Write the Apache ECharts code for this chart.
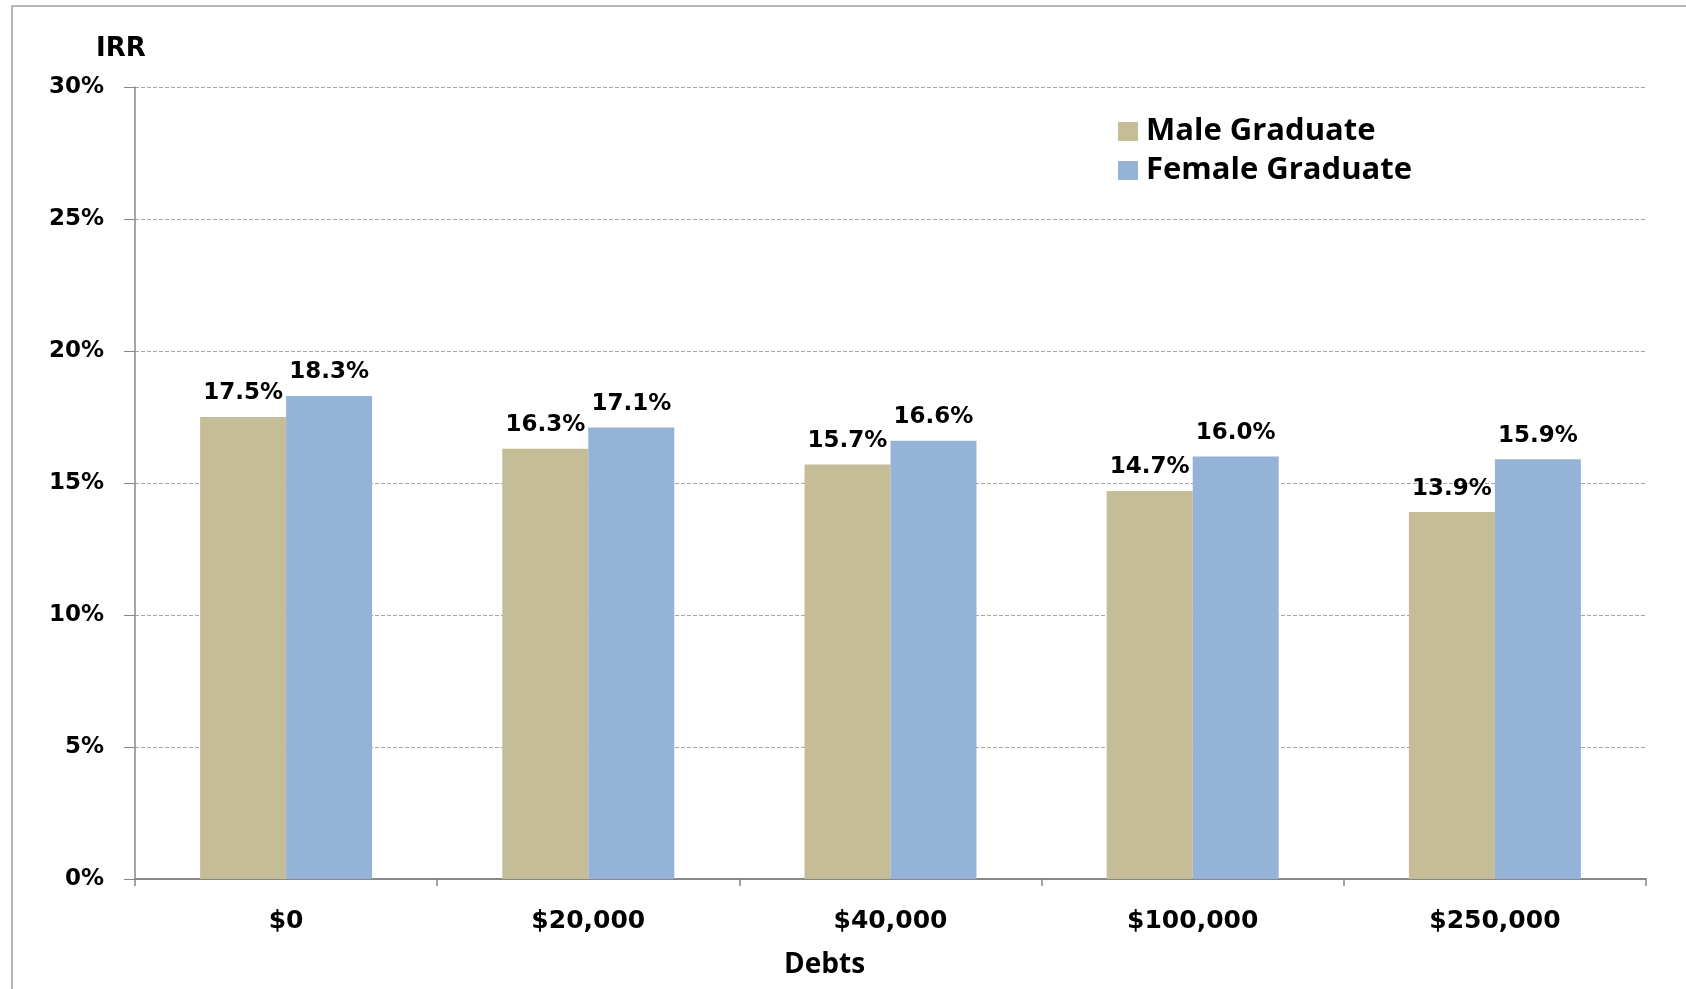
<!DOCTYPE html>
<html>
<head>
<meta charset="utf-8">
<script src="https://cdn.jsdelivr.net/npm/echarts@6/dist/echarts.min.js"></script>
<style>
  html, body { margin: 0; padding: 0; background: #fff; }
  #main { width: 1686px; height: 989px; }
</style>
</head>
<body>
<div id="main"></div>
<script>
const categories = ['$0', '$20,000', '$40,000', '$100,000', '$250,000'];
const maleValues = [17.5, 16.3, 15.7, 14.7, 13.9];
const femaleValues = [18.3, 17.1, 16.6, 16.0, 15.9];
const seriesNames = ['Male Graduate', 'Female Graduate'];

const chart = echarts.init(document.getElementById('main'));

const valueLabel = {
  show: true,
  position: 'top',
  distance: 12,
  fontFamily: 'DejaVu Sans',
  fontWeight: 'bold',
  fontSize: 23,
  color: '#000',
  formatter: p => p.value.toFixed(1) + '%'
};

const option = {
  backgroundColor: '#fff',
  animation: false,
  grid: {
    left: 135,
    right: 40,
    top: 87,
    bottom: 110
  },
  legend: {
    left: 1118,
    top: 116,
    padding: 0,
    orient: 'vertical',
    itemWidth: 20,
    itemHeight: 19,
    itemGap: 8,
    icon: 'rect',
    textStyle: {
      fontFamily: 'Open Sans',
      fontWeight: 'bold',
      fontSize: 31,
      lineHeight: 31,
      color: '#000',
      padding: [0, 0, 0, 3]
    },
    data: seriesNames
  },
  graphic: [
    {
      type: 'rect',
      shape: {x: 12, y: 6, width: 2000, height: 2000},
      style: {fill: 'none', stroke: '#a0a0a0', lineWidth: 1.5},
      silent: true
    },
    {
      type: 'text',
      left: 96,
      top: 36,
      style: {
        text: 'IRR',
        fontFamily: 'DejaVu Sans',
        fontWeight: 'bold',
        fontSize: 26,
        fill: '#000'
      }
    },
    {
      type: 'text',
      left: 784,
      top: 951,
      style: {
        text: 'Debts',
        fontFamily: 'Open Sans',
        fontWeight: 'bold',
        fontSize: 28,
        fill: '#000'
      }
    }
  ],
  xAxis: {
    type: 'category',
    data: categories,
    axisLine: {lineStyle: {color: '#878787', width: 2}},
    axisTick: {show: true, length: 7, lineStyle: {color: '#878787', width: 1.5}},
    axisLabel: {
      margin: 30,
      fontFamily: 'DejaVu Sans',
      fontWeight: 'bold',
      fontSize: 25,
      color: '#000'
    }
  },
  yAxis: {
    type: 'value',
    min: 0,
    max: 30,
    interval: 5,
    axisLine: {show: true, lineStyle: {color: '#878787', width: 1.5}},
    axisTick: {show: true, length: 11, lineStyle: {color: '#878787', width: 1}},
    axisLabel: {
      margin: 31,
      padding: [3, 0, 0, 0],
      fontFamily: 'DejaVu Sans',
      fontWeight: 'bold',
      fontSize: 23,
      color: '#000',
      formatter: '{value}%'
    },
    splitLine: {
      show: true,
      lineStyle: {color: '#a6a6a6', type: [4, 2], width: 1}
    }
  },
  series: [
    {
      name: seriesNames[0],
      type: 'bar',
      data: maleValues,
      barWidth: 86,
      barGap: '0%',
      itemStyle: {color: '#c4bd97'},
      label: valueLabel
    },
    {
      name: seriesNames[1],
      type: 'bar',
      data: femaleValues,
      barWidth: 86,
      itemStyle: {color: '#95b3d7'},
      label: valueLabel
    }
  ]
};

chart.setOption(option);
</script>
</body>
</html>
